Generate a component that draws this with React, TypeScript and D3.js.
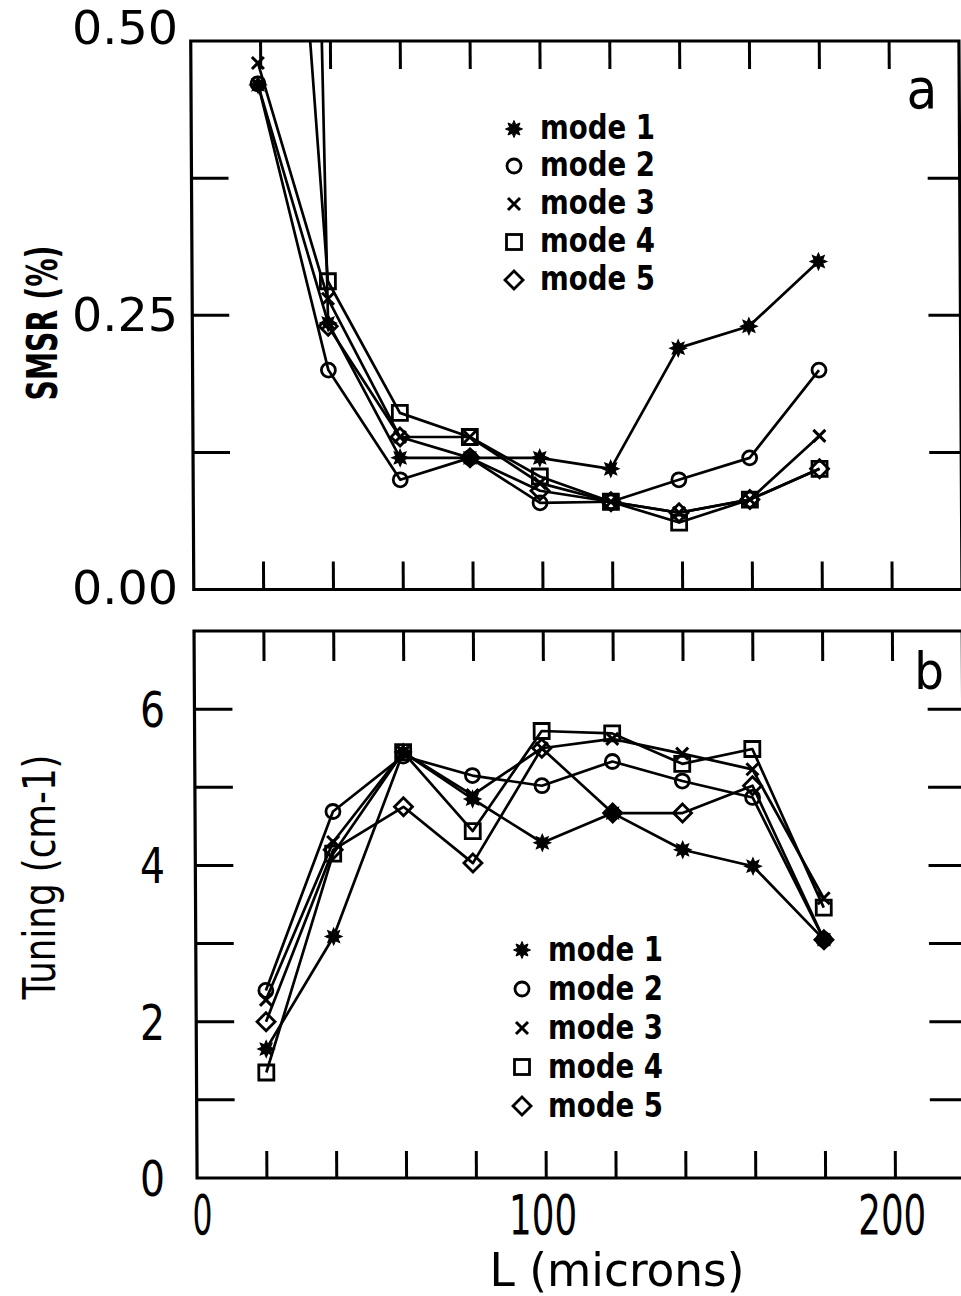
import React from "react";
import * as d3 from "d3";

// ---------- data ----------
const MODES = ["mode 1", "mode 2", "mode 3", "mode 4", "mode 5"];
const MARKERS = ["star", "circle", "cross", "square", "diamond"];

// cavity length L (microns)
const L_SMSR = [19.2, 38.9, 59.3, 79.3, 99.3, 119.6, 139.1, 159.4, 179.4];
const L_TUNE = [20, 39.5, 59.7, 79.5, 99.4, 119.6, 139.6, 159.7, 179.9];

// panel a: SMSR (%)  (first points of modes 4 and 5 lie above the frame)
const SMSR_MODE1 = [0.46, 0.243, 0.12, 0.12, 0.12, 0.11, 0.22, 0.24, 0.299];
const SMSR_MODE2 = [0.461, 0.2, 0.1, 0.12, 0.079, 0.08, 0.1, 0.12, 0.2];
const SMSR_MODE3 = [0.48, 0.265, 0.139, 0.139, 0.097, 0.08, 0.07, 0.082, 0.14];
const SMSR_MODE4 = [1.2, 0.281, 0.161, 0.139, 0.103, 0.08, 0.061, 0.082, 0.11];
const SMSR_MODE5 = [4.0, 0.24, 0.139, 0.12, 0.09, 0.08, 0.07, 0.082, 0.11];

// panel b: Tuning (cm-1)
const TUNE_MODE1 = [1.65, 3.09, 5.45, 4.85, 4.29, 4.67, 4.2, 3.99, 3.05];
const TUNE_MODE2 = [2.4, 4.69, 5.4, 5.15, 5.02, 5.33, 5.08, 4.87, 3.05];
const TUNE_MODE3 = [2.28, 4.3, 5.45, 4.9, 5.5, 5.62, 5.43, 5.23, 3.58];
const TUNE_MODE4 = [1.35, 4.15, 5.45, 4.44, 5.72, 5.69, 5.3, 5.49, 3.46];
const TUNE_MODE5 = [2.0, 4.2, 4.75, 4.03, 5.5, 4.67, 4.67, 5.02, 3.05];

const X_TICKS = [20, 40, 60, 80, 100, 120, 140, 160, 180, 200];
const X_LABELS = [0, 100, 200];
const SMSR_TICKS = [0.125, 0.25, 0.375];
const SMSR_LABELS = [0.0, 0.25, 0.5];
const TUNE_TICKS = [1, 2, 3, 4, 5, 6];
const TUNE_LABELS = [0, 2, 4, 6];

// ---------- layout ----------
const W = 961;
const H = 1296;
const SKEW = 0.32; // deg, mimics the slight scan shear
const SHEAR = Math.tan((SKEW * Math.PI) / 180);
const FONT = "'DejaVu Sans Condensed', 'DejaVu Sans', sans-serif";

const x = d3.scaleLinear().domain([0, 220]).range([190.5, 958.7]);
const yA = d3.scaleLinear().domain([0, 0.5]).range([589.5, 41]);
const yB = d3.scaleLinear().domain([0, 7]).range([1178, 631]);

const starPath = (r: number) => {
  const pts: string[] = [];
  for (let i = 0; i < 16; i++) {
    const a = (i * Math.PI) / 8 - Math.PI / 2;
    const rr = i % 2 === 0 ? r : r * 0.55;
    pts.push(`${(rr * Math.cos(a)).toFixed(2)},${(rr * Math.sin(a)).toFixed(2)}`);
  }
  return "M" + pts.join("L") + "Z";
};

function Marker({ type, cx, cy }: { type: string; cx: number; cy: number }) {
  const t = `translate(${cx},${cy})`;
  switch (type) {
    case "star":
      return <path d={starPath(8.5)} transform={t} fill="#000" stroke="#000" strokeWidth={1} />;
    case "circle":
      return <circle cx={cx} cy={cy} r={7} fill="none" stroke="#000" strokeWidth={2.8} />;
    case "cross":
      return <path d="M-6,-6L6,6M-6,6L6,-6" transform={t} fill="none" stroke="#000" strokeWidth={3} />;
    case "square":
      return <rect x={cx - 7.5} y={cy - 7.5} width={15} height={15} fill="none" stroke="#000" strokeWidth={2.8} />;
    default:
      return <path d="M0,-9L9,0L0,9L-9,0Z" transform={t} fill="none" stroke="#000" strokeWidth={2.8} />;
  }
}

type Series = { marker: string; values: number[] };

const SMSR_SERIES: Series[] = [SMSR_MODE1, SMSR_MODE2, SMSR_MODE3, SMSR_MODE4, SMSR_MODE5].map(
  (values, i) => ({ marker: MARKERS[i], values })
);
const TUNE_SERIES: Series[] = [TUNE_MODE1, TUNE_MODE2, TUNE_MODE3, TUNE_MODE4, TUNE_MODE5].map(
  (values, i) => ({ marker: MARKERS[i], values })
);

function Panel({
  id,
  y,
  Ls,
  series,
  yTicks,
  leftLen,
  rightLen,
  topLen,
  botLen,
}: {
  id: string;
  y: d3.ScaleLinear<number, number>;
  Ls: number[];
  series: Series[];
  yTicks: number[];
  leftLen: number;
  rightLen: number;
  topLen: number;
  botLen: number;
}) {
  const [x0, x1] = x.range();
  const [yb, yt] = y.range();
  const line = d3
    .line<number>()
    .x((_, i) => x(Ls[i]))
    .y((v) => y(v));
  return (
    <g>
      <defs>
        <clipPath id={id}>
          <rect x={x0} y={yt} width={x1 - x0} height={yb - yt} />
        </clipPath>
      </defs>
      <g clipPath={`url(#${id})`}>
        {series.map((s, i) => (
          <path key={"l" + i} d={line(s.values) || ""} fill="none" stroke="#000" strokeWidth={2.7} strokeLinejoin="round" />
        ))}
        {series.map((s, i) =>
          s.values.map((v, j) => <Marker key={`m${i}-${j}`} type={s.marker} cx={x(Ls[j])} cy={y(v)} />)
        )}
      </g>
      {/* ticks */}
      {yTicks.map((t) => (
        <g key={"yt" + t}>
          <line x1={x0} x2={x0 + leftLen} y1={y(t)} y2={y(t)} stroke="#000" strokeWidth={3} />
          <line x1={x1} x2={x1 - rightLen} y1={y(t)} y2={y(t)} stroke="#000" strokeWidth={3} />
        </g>
      ))}
      {X_TICKS.map((t) => (
        <g key={"xt" + t}>
          <line x1={x(t)} x2={x(t)} y1={yt} y2={yt + topLen} stroke="#000" strokeWidth={3} />
          <line x1={x(t)} x2={x(t)} y1={yb} y2={yb - botLen} stroke="#000" strokeWidth={3} />
        </g>
      ))}
      <rect x={x0} y={yt} width={x1 - x0} height={yb - yt} fill="none" stroke="#000" strokeWidth={3.2} />
    </g>
  );
}

function Legend({ mx, tx, baselines, dy }: { mx: number; tx: number; baselines: number[]; dy: number }) {
  return (
    <g>
      {MODES.map((m, i) => (
        <g key={m}>
          <Marker type={MARKERS[i]} cx={mx} cy={baselines[i] - dy} />
          <text
            x={tx}
            y={baselines[i]}
            fontFamily={FONT}
            fontWeight="bold"
            fontSize={33}
            textLength={115}
            lengthAdjust="spacingAndGlyphs"
          >
            {m}
          </text>
        </g>
      ))}
    </g>
  );
}

export default function App() {
  const shiftAt = (yy: number) => yy * SHEAR;
  const fmtA = d3.format(".2f");
  return (
    <svg
      width={W}
      height={H}
      viewBox={`0 0 ${W} ${H}`}
      style={{ position: "absolute", left: 0, top: 0, background: "#fff" }}
    >
      <rect x={0} y={0} width={W} height={H} fill="#fff" />
      <g transform={`skewX(${SKEW})`}>
        <Panel id="clipA" y={yA} Ls={L_SMSR} series={SMSR_SERIES} yTicks={SMSR_TICKS} leftLen={37} rightLen={32} topLen={28} botLen={28} />
        <Panel id="clipB" y={yB} Ls={L_TUNE} series={TUNE_SERIES} yTicks={TUNE_TICKS} leftLen={38} rightLen={35} topLen={30} botLen={27} />
      </g>

      {/* legends */}
      <Legend mx={514} tx={540} baselines={[139, 176, 214, 252, 290]} dy={10} />
      <Legend mx={522} tx={548} baselines={[961, 1000, 1039, 1078, 1117]} dy={11} />

      {/* panel letters */}
      <text x={922} y={108} textAnchor="middle" fontFamily={FONT} fontSize={56}>a</text>
      <text x={929} y={689} textAnchor="middle" fontFamily={FONT} fontSize={52}>b</text>

      {/* y tick labels panel a */}
      {SMSR_LABELS.map((v) => {
        const base = v === 0.5 ? 44 : yA(v) + (v === 0 ? 14 : 16);
        return (
          <text key={"la" + v} x={178} y={base} textAnchor="end" fontFamily={FONT} fontSize={47} textLength={106} lengthAdjust="spacingAndGlyphs">
            {fmtA(v)}
          </text>
        );
      })}
      {/* y tick labels panel b */}
      {TUNE_LABELS.map((v) => (
        <text key={"lb" + v} x={165} y={yB(v) + 18} textAnchor="end" fontFamily={FONT} fontSize={49} textLength={25} lengthAdjust="spacingAndGlyphs">
          {String(v)}
        </text>
      ))}
      {/* x tick labels */}
      {X_LABELS.map((v) => {
        const cx = x(v) + shiftAt(1234) + (v === 0 ? 5 : -3.5);
        const s = String(v);
        return (
          <text key={"lx" + v} x={cx} y={1234} textAnchor="middle" fontFamily={FONT} fontSize={55} textLength={s.length === 1 ? 20 : 68} lengthAdjust="spacingAndGlyphs">
            {s}
          </text>
        );
      })}

      {/* axis titles */}
      <text x={617} y={1286} textAnchor="middle" fontFamily={FONT} fontSize={46} textLength={255} lengthAdjust="spacingAndGlyphs">
        L (microns)
      </text>
      <text transform="translate(57,323) rotate(-90)" textAnchor="middle" fontFamily={FONT} fontWeight="bold" fontSize={42} textLength={155} lengthAdjust="spacingAndGlyphs">
        SMSR (%)
      </text>
      <text transform="translate(55,877) rotate(-90)" textAnchor="middle" fontFamily={FONT} fontSize={44} textLength={245} lengthAdjust="spacingAndGlyphs">
        Tuning (cm-1)
      </text>
    </svg>
  );
}
